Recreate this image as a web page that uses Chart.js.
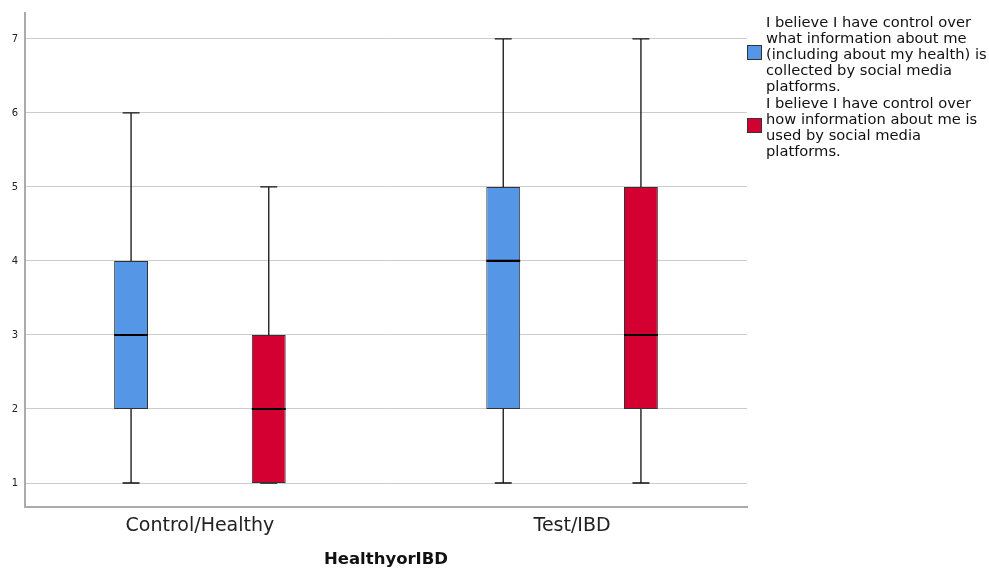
<!DOCTYPE html>
<html>
<head>
<meta charset="utf-8">
<script src="https://cdn.jsdelivr.net/npm/chart.js@4.4.1/dist/chart.umd.min.js"></script>
<style>
    body { margin: 0; background: #fff; }
    #wrap { position: relative; width: 989px; height: 569px; }
    #legend {
        position: absolute; left: 747px; top: 14px; width: 242px;
        font-family: 'DejaVu Sans', sans-serif; font-size: 14.7px; line-height: 16px; color: #111;
    }
    .item { display: flex; align-items: center; margin-bottom: 1px; }
    .sw { box-sizing: border-box; width: 15px; height: 15px; border: 1px solid #333; flex: none; margin-right: 4px; margin-top: -3px; }
    .txt { white-space: nowrap; }
</style>
</head>
<body>
<div id="wrap">
    <canvas id="chart"></canvas>
    <div id="legend"></div>
</div>
<script>
const categories = ['Control/Healthy', 'Test/IBD'];
// legend labels, already split into lines like the original
const seriesLabels = [
    ['I believe I have control over', 'what information about me', '(including about my health) is', 'collected by social media', 'platforms.'],
    ['I believe I have control over', 'how information about me is', 'used by social media', 'platforms.']
];
const seriesColors = ['#5596e6', '#d50032'];

// box plot stats per category
const collectedMin = [1, 1];
const collectedQ1 = [2, 2];
const collectedMedian = [3, 4];
const collectedQ3 = [4, 5];
const collectedMax = [6, 7];

const usedMin = [1, 1];
const usedQ1 = [1, 2];
const usedMedian = [2, 3];
const usedQ3 = [3, 5];
const usedMax = [5, 7];

const yTicks = [1, 2, 3, 4, 5, 6, 7];

const stats = [
    { min: collectedMin, q1: collectedQ1, med: collectedMedian, q3: collectedQ3, max: collectedMax },
    { min: usedMin, q1: usedQ1, med: usedMedian, q3: usedQ3, max: usedMax }
];

const datasets = stats.map((s, i) => ({
    label: seriesLabels[i].join(' '),
    data: categories.map((c, j) => ({ x: j + 1, y: [s.q1[j], s.q3[j]] })),
    backgroundColor: seriesColors[i],
    borderColor: '#333',
    borderWidth: 1,
    borderSkipped: false,
    categoryPercentage: 0.74,
    barPercentage: 0.246
}));

// whiskers behind the boxes, medians on top
const boxPlot = {
    id: 'boxPlot',
    beforeDatasetsDraw(chart) {
        const ctx = chart.ctx;
        const y = chart.scales.y;
        ctx.save();
        ctx.strokeStyle = '#111';
        ctx.lineWidth = 1.3;
        stats.forEach((s, i) => {
            chart.getDatasetMeta(i).data.forEach((bar, j) => {
                const top = y.getPixelForValue(s.max[j]);
                const bottom = y.getPixelForValue(s.min[j]);
                const cap = bar.width / 4;
                ctx.beginPath();
                ctx.moveTo(bar.x, top);
                ctx.lineTo(bar.x, bottom);
                ctx.moveTo(bar.x - cap, top);
                ctx.lineTo(bar.x + cap, top);
                ctx.moveTo(bar.x - cap, bottom);
                ctx.lineTo(bar.x + cap, bottom);
                ctx.stroke();
            });
        });
        ctx.restore();
    },
    afterDatasetsDraw(chart) {
        const ctx = chart.ctx;
        const y = chart.scales.y;
        ctx.save();
        ctx.strokeStyle = '#000';
        ctx.lineWidth = 2.2;
        stats.forEach((s, i) => {
            chart.getDatasetMeta(i).data.forEach((bar, j) => {
                const py = y.getPixelForValue(s.med[j]);
                ctx.beginPath();
                ctx.moveTo(bar.x - bar.width / 2, py);
                ctx.lineTo(bar.x + bar.width / 2, py);
                ctx.stroke();
            });
        });
        ctx.restore();
    }
};

new Chart(document.getElementById('chart'), {
    type: 'bar',
    data: { datasets: datasets },
    plugins: [boxPlot],
    options: {
        responsive: true,
        maintainAspectRatio: false,
        animation: false,
        layout: { padding: { top: 12, right: 242, left: 0, bottom: 0 } },
        plugins: {
            legend: { display: false },
            tooltip: { enabled: false }
        },
        scales: {
            x: {
                type: 'linear',
                offset: false,
                min: 0.53,
                max: 2.47,
                afterFit: (scale) => { scale.height = 62; },
                afterBuildTicks: (scale) => { scale.ticks = categories.map((c, j) => ({ value: j + 1 })); },
                grid: { display: false, drawTicks: false },
                border: { display: true, color: '#aaa', width: 2 },
                ticks: {
                    padding: 8,
                    color: '#222',
                    font: { family: 'DejaVu Sans', size: 19 },
                    callback: (v) => categories[v - 1]
                },
                title: {
                    display: true,
                    text: 'HealthyorIBD',
                    color: '#111',
                    font: { family: 'DejaVu Sans', size: 16.5, weight: 'bold' },
                    padding: { top: 0, bottom: -1 }
                }
            },
            y: {
                min: 0.676,
                max: 7.35,
                afterFit: (scale) => { scale.width = 25; },
                afterBuildTicks: (scale) => { scale.ticks = yTicks.map(v => ({ value: v })); },
                grid: { color: '#cccccc', lineWidth: 1, drawTicks: false },
                border: { display: true, color: '#aaa', width: 2 },
                ticks: {
                    padding: 7,
                    color: '#222',
                    font: { family: 'DejaVu Sans', size: 10 }
                }
            }
        }
    }
});

// legend as html so the long labels wrap the same way
const legend = document.getElementById('legend');
seriesLabels.forEach((lines, i) => {
    const item = document.createElement('div');
    item.className = 'item';
    item.innerHTML = '<span class="sw" style="background:' + seriesColors[i] + '"></span><span class="txt">' + lines.join('<br>') + '</span>';
    legend.appendChild(item);
});
</script>
</body>
</html>
